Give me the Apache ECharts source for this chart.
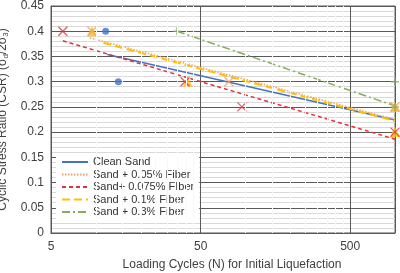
<!DOCTYPE html>
<html><head><meta charset="utf-8">
<script src="https://cdn.jsdelivr.net/npm/echarts@6/dist/echarts.min.js"></script>
<style>html,body{margin:0;padding:0;background:#fff}#c{width:400px;height:273px}</style>
</head><body><div id="c"></div>
<script>
// Data
const cleanN = [11.6, 14.1];
const cleanCSR = [0.4, 0.3];
const f005N = [9.4, 77.5, 1000];
const f005CSR = [0.4, 0.3, 0.25];
const f0075N = [6.0, 39.4, 94.6, 1000];
const f0075CSR = [0.4, 0.3, 0.25, 0.2];
const f01N = [9.4, 41, 1000, 1000];
const f01CSR = [0.4, 0.3, 0.25, 0.2];
const f03N = [34.8, 1000, 1000];
const f03CSR = [0.4, 0.3, 0.25];

// Trendline end points
const trendCleanN = [11.9, 1000], trendCleanCSR = [0.354, 0.224];
const trend005N = [9.1, 1000], trend005CSR = [0.387, 0.225];
const trend0075N = [6.0, 1000], trend0075CSR = [0.381, 0.186];
const trend01N = [11.2, 1000], trend01CSR = [0.377, 0.222];
const trend03N = [34.8, 1000], trend03CSR = [0.4, 0.252];

const legendNames = ['Clean Sand', 'Sand + 0.05% Fiber', 'Sand+ 0.075% FIber', 'Sand + 0.1% Fiber', 'Sand + 0.3% Fiber'];
const minorXTicks = [10,15,20,25,30,35,40,45,100,150,200,250,300,350,400,450];

const C = {blue:'#4472C4', orange:'#F4A06A', red:'#E2313B', yellow:'#FFC000', green:'#86AC5C'};
const pairs = (a,b) => a.map((v,i)=>[v,b[i]]);
const X = 'path://M0,0L10,10M10,0L0,10';
const PLUS = 'path://M5,0L5,10M0,5L10,5';

function trend(name, n, c, color, type, width){
  return {name, type:'line', data:pairs(n,c), symbol:'none', z:3,
    lineStyle:{color, type, width}, itemStyle:{color}, silent:true, animation:false};
}
function scatter(name, n, c, symbol, size, style){
  return {name, type:'scatter', data:pairs(n,c), symbol, symbolSize:size, z:4,
    itemStyle:style, animation:false};
}

const chart = echarts.init(document.getElementById('c'));
chart.setOption({
  animation:false,
  textStyle:{fontFamily:'Liberation Sans, Arial, sans-serif'},
  grid:{left:51, top:6, right:5, bottom:40, show:true, borderColor:'#595959', borderWidth:1,
    containLabel:false, outerBoundsMode:'none'},
  legend:{
    data: legendNames, orient:'vertical', left:56, top:153,
    itemWidth:26, itemHeight:12, itemGap:0.5, padding:[3,5,3,5],
    backgroundColor:'#ffffff',
    itemStyle:{color:'transparent', borderColor:'transparent', borderWidth:0, opacity:0},
    textStyle:{fontSize:11, color:'#333', lineHeight:12}
  },
  xAxis:{
    type:'log', logBase:10, min:5, max:1000, interval:1,
    name:'Loading Cycles (N) for Initial Liquefaction', nameLocation:'middle', nameGap:26,
    nameTextStyle:{fontSize:12, color:'#404040', padding:[0,0,0,18]},
    axisLine:{show:true, lineStyle:{color:'#595959'}},
    axisTick:{show:false},
    axisLabel:{fontSize:12, color:'#404040', margin:8, formatter:v=>String(Number(Number(v).toPrecision(1))), showMaxLabel:false},
    splitLine:{show:true, lineStyle:{color:'#595959', width:1}}
  },
  yAxis:{
    type:'value', min:0, max:0.45, interval:0.05,
    name:'Cyclic Stress Ratio (CSR) (σ{sub|d}/2σ{sub|3})', nameLocation:'middle', nameGap:37,
    nameTextStyle:{fontSize:12, color:'#404040',
      rich:{sub:{fontSize:8, color:'#404040', verticalAlign:'bottom', padding:[6,0,0,0]}}},
    axisLine:{show:true, lineStyle:{color:'#595959'}},
    axisTick:{show:false},
    axisLabel:{fontSize:12, color:'#404040', margin:7, formatter:v=>String(Math.round(v*100)/100)},
    splitLine:{show:true, lineStyle:{color:'#595959', width:1}},
    minorTick:{show:false, splitNumber:5},
    minorSplitLine:{show:true, lineStyle:{color:'#d9d9d9', width:1}}
  },
  series:[
    {type:'line', data:[], z:2, silent:true, markLine:{symbol:'none', silent:true, label:{show:false},
      lineStyle:{color:'#f9f9f9', type:'solid', width:1},
      data:minorXTicks.map(v=>({xAxis:v}))}},
    trend(legendNames[0], trendCleanN, trendCleanCSR, C.blue, 'solid', 1.5),
    trend(legendNames[1], trend005N, trend005CSR, C.orange, [1.5,1.5], 1.5),
    trend(legendNames[2], trend0075N, trend0075CSR, C.red, [4,3], 1.5),
    trend(legendNames[3], trend01N, trend01CSR, C.yellow, [8,4], 2),
    trend(legendNames[4], trend03N, trend03CSR, C.green, [8,3,2,3], 1.5),
    scatter('pts-clean', cleanN, cleanCSR, 'circle', 7, {color:C.blue}),
    scatter('pts-01', f01N, f01CSR, 'triangle', 10, {color:C.yellow}),
    scatter('pts-005', f005N, f005CSR, X, 9, {color:'transparent', borderColor:C.orange, borderWidth:1.5}),
    scatter('pts-0075', f0075N, f0075CSR, X, 9, {color:'transparent', borderColor:C.red, borderWidth:1.3}),
    scatter('pts-03', f03N, f03CSR, PLUS, 8, {color:'transparent', borderColor:C.green, borderWidth:1.5})
  ]
});
</script></body></html>
